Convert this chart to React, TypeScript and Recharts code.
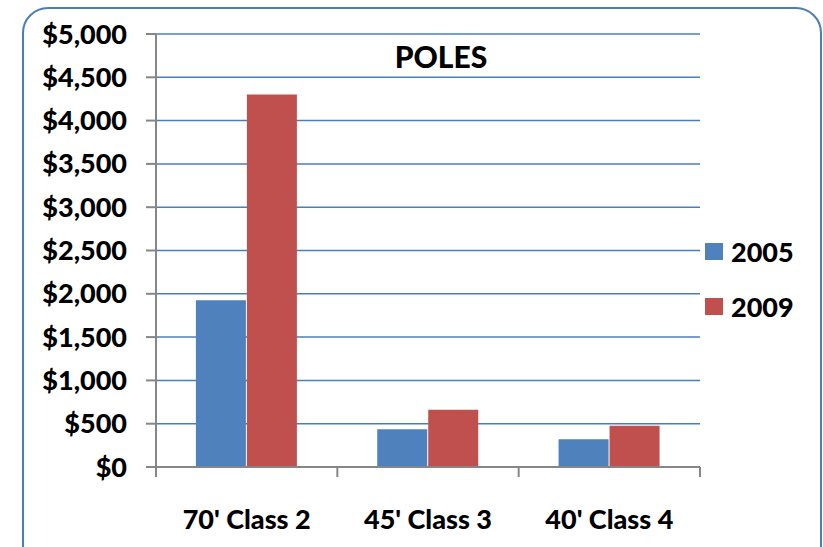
import React from 'react';
import { BarChart, Bar, XAxis, YAxis, CartesianGrid, Legend } from 'recharts';

const categories = ["70' Class 2", "45' Class 3", "40' Class 4"];
const values2005 = [1925, 435, 320];
const values2009 = [4300, 660, 475];
const yTicks = [0, 500, 1000, 1500, 2000, 2500, 3000, 3500, 4000, 4500, 5000];

const data = categories.map((name, i) => ({ name, y2005: values2005[i], y2009: values2009[i] }));

const FONT = 'Lato, "Open Sans", sans-serif';
const WEIGHT = 900;
const AXIS = '#868686';
const money = (v: number) => '$' + v.toLocaleString('en-US');

// category label plus Excel-style tick marks on the category boundaries
function CatTick(props: any) {
  const { x, y, payload, index, visibleTicksCount } = props;
  const half = payload?.offset ?? 0;
  const last = index === visibleTicksCount - 1;
  return (
    <g>
      <line x1={x - half} x2={x - half} y1={y} y2={y + 10} stroke={AXIS} strokeWidth={2} />
      {last && <line x1={x + half} x2={x + half} y1={y} y2={y + 10} stroke={AXIS} strokeWidth={2} />}
      <text x={x} y={y + 43} dy="0.71em" textAnchor="middle" fill="#000"
        style={{ fontFamily: FONT, fontWeight: WEIGHT, fontSize: 27 }}>{payload.value}</text>
    </g>
  );
}

function LegendBox({ payload }: any) {
  return (
    <div style={{ fontFamily: FONT, fontWeight: WEIGHT }}>
      {(payload || []).map((p: any) => (
        <div key={p.value} style={{ display: 'flex', alignItems: 'center', height: 55 }}>
          <span style={{ width: 18, height: 17, background: p.color, marginRight: 8 }} />
          <span style={{ fontSize: 27, color: '#000' }}>{p.value}</span>
        </div>
      ))}
    </div>
  );
}

export default function App() {
  return (
    <div style={{ position: 'absolute', left: 0, top: 0, width: 823, height: 547, overflow: 'hidden', background: '#fff' }}>
      <div style={{ position: 'absolute', left: 22, top: 7, width: 796, height: 600, border: '2px solid #4A7EBB', borderRadius: 26 }} />
      <BarChart width={823} height={547} data={data} margin={{ top: 34, right: 13, left: 0, bottom: 0 }}
        barCategoryGap="22%" barGap={1}>
        <CartesianGrid vertical={false} stroke="#4A7EBB" strokeWidth={1.5} />
        <XAxis dataKey="name" height={80} tickLine={false} tickSize={0} tickMargin={0} interval={0}
          axisLine={{ stroke: AXIS, strokeWidth: 2 }} tick={<CatTick />} />
        <YAxis width={156} domain={[0, 5000]} ticks={yTicks} tickFormatter={money} tickSize={10} tickMargin={19}
          axisLine={{ stroke: AXIS, strokeWidth: 2 }} tickLine={{ stroke: AXIS, strokeWidth: 2 }}
          tick={{ fill: '#000', fontFamily: FONT, fontWeight: WEIGHT, fontSize: 27 }} interval={0} />
        <Legend layout="vertical" align="right" verticalAlign="top" content={<LegendBox />}
          wrapperStyle={{ left: 705, top: 224, width: 110 }} />
        <Bar dataKey="y2005" name="2005" fill="#4F81BD" isAnimationActive={false} />
        <Bar dataKey="y2009" name="2009" fill="#C0504D" isAnimationActive={false} />
      </BarChart>
      <div style={{ position: 'absolute', left: 341, width: 200, top: 38, textAlign: 'center', fontFamily: FONT, fontWeight: WEIGHT, fontSize: 30 }}>POLES</div>
    </div>
  );
}
